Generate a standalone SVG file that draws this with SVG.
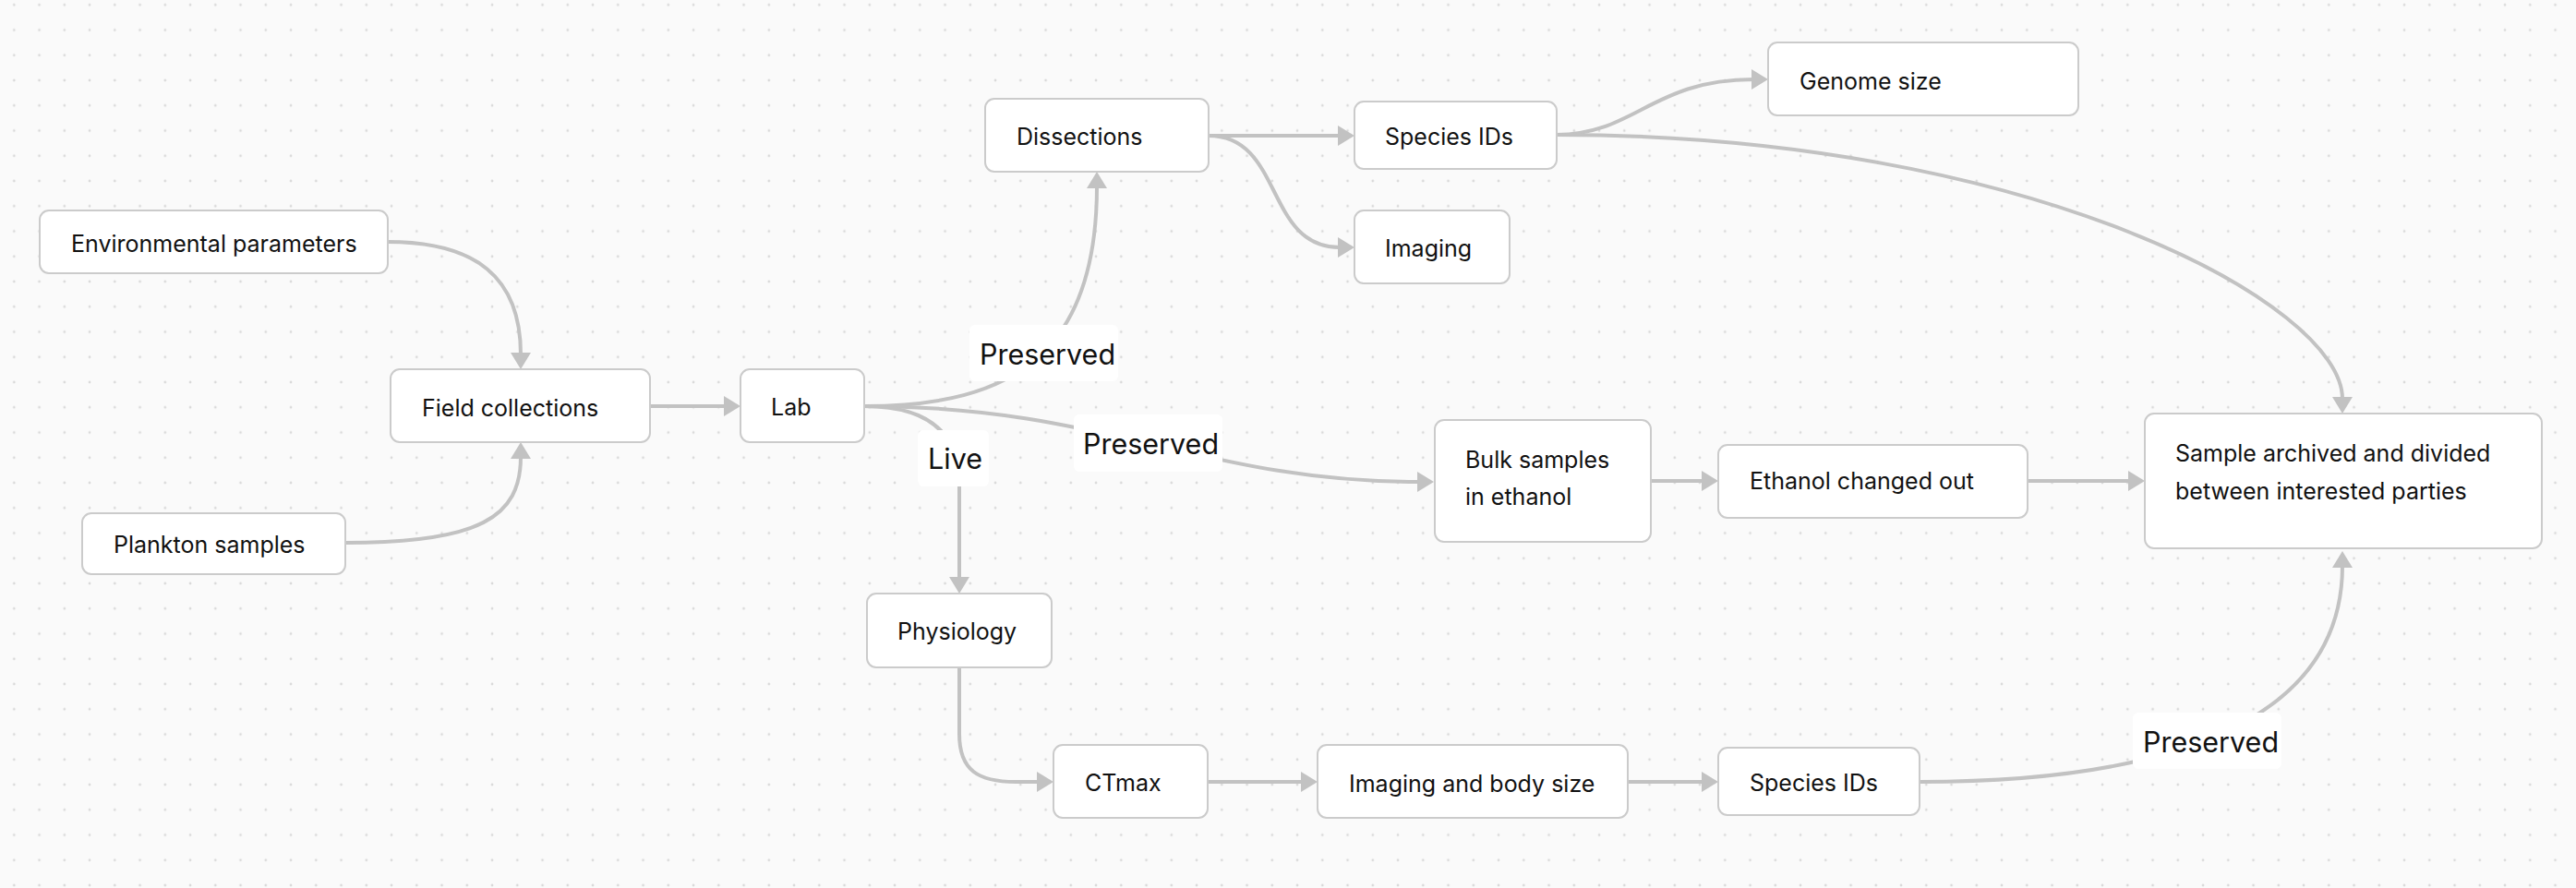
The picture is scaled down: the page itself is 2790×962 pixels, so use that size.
<svg xmlns="http://www.w3.org/2000/svg" width="2790" height="962" viewBox="0 0 2790 962">
<defs>
<pattern id="dots" patternUnits="userSpaceOnUse" x="1.675" y="-8.325" width="27.25" height="27.25">
<circle cx="13.625" cy="13.625" r="1.4" fill="#d9d9d9"/>
</pattern>
<marker id="arr" viewBox="0 0 18 22" markerWidth="18" markerHeight="22" refX="2" refY="11" orient="auto" markerUnits="userSpaceOnUse">
<path d="M0,0 L18,11 L0,22 z" fill="#c2c2c2"/>
</marker>
<style>
.node rect{fill:#ffffff;stroke:#cbcbcb;stroke-width:2}
.node text{font-family:Inter,"Noto Sans","Liberation Sans",sans-serif;font-size:25px;fill:#111111}
.edge{fill:none;stroke:#c2c2c2;stroke-width:4;marker-end:url(#arr)}
.lbl rect{fill:#ffffff;stroke:none}
.lbl text{font-family:Inter,"Noto Sans","Liberation Sans",sans-serif;font-size:30.5px;fill:#111111}
</style>
</defs>
<rect width="2790" height="962" fill="#fafafa"/>
<rect width="2790" height="962" fill="url(#dots)"/>

<g id="connectors">
<path class="edge" d="M420,262 C515,262 564,300 564,384"/>
<path class="edge" d="M374,588 C520,588 564,560 564,495"/>
<path class="edge" d="M704,440 L786,440"/>
<path class="edge" d="M936,440 C1100,440 1188,380 1188,202"/>
<path class="edge" d="M936,440 C1200,440 1300,522 1537,522"/>
<path class="edge" d="M936,440 C1000,440 1039,465 1039,525 L1039,627"/>
<path class="edge" d="M1309,147 L1451,147"/>
<path class="edge" d="M1309,147 C1390,147 1370,268 1451,268"/>
<path class="edge" d="M1686,146 C1770,146 1790,86 1899,86"/>
<path class="edge" d="M1686,146 C2200,146 2537,330 2537,432"/>
<path class="edge" d="M1788,521 L1845,521"/>
<path class="edge" d="M2196,521 L2307,521"/>
<path class="edge" d="M1039,723 L1039,795 C1039,835 1060,847 1100,847 L1125,847"/>
<path class="edge" d="M1308,847 L1411,847"/>
<path class="edge" d="M1763,847 L1845,847"/>
<path class="edge" d="M2079,847 C2330,847 2537,790 2537,613"/>
<g class="lbl">
<rect x="1050" y="352" width="161" height="61" rx="6"/>
<text x="1061" y="395">Preserved</text>
<rect x="1163" y="449" width="161" height="62" rx="6"/>
<text x="1173" y="492">Preserved</text>
<rect x="994" y="466" width="77" height="61" rx="6"/>
<text x="1005" y="508">Live</text>
<rect x="2310" y="772" width="161" height="61" rx="6"/>
<text x="2321" y="815">Preserved</text>
</g>
</g>

<g id="n-env" class="node"><rect x="43" y="228" width="377" height="68" rx="10"/><text x="77" y="273">Environmental parameters</text></g>
<g id="n-plankton" class="node"><rect x="89" y="556" width="285" height="66" rx="10"/><text x="123" y="599">Plankton samples</text></g>
<g id="n-field" class="node"><rect x="423" y="400" width="281" height="79" rx="10"/><text x="457" y="451">Field collections</text></g>
<g id="n-lab" class="node"><rect x="802" y="400" width="134" height="79" rx="10"/><text x="835" y="450">Lab</text></g>
<g id="n-dissections" class="node"><rect x="1067" y="107" width="242" height="79" rx="10"/><text x="1101" y="157">Dissections</text></g>
<g id="n-species1" class="node"><rect x="1467" y="110" width="219" height="73" rx="10"/><text x="1500" y="157">Species IDs</text></g>
<g id="n-imaging" class="node"><rect x="1467" y="228" width="168" height="79" rx="10"/><text x="1500" y="278">Imaging</text></g>
<g id="n-genome" class="node"><rect x="1915" y="46" width="336" height="79" rx="10"/><text x="1949" y="97">Genome size</text></g>
<g id="n-bulk" class="node"><rect x="1554" y="455" width="234" height="132" rx="10"/><text x="1587" y="507">Bulk samples</text><text x="1587" y="547">in ethanol</text></g>
<g id="n-ethanol" class="node"><rect x="1861" y="482" width="335" height="79" rx="10"/><text x="1895" y="530">Ethanol changed out</text></g>
<g id="n-archive" class="node"><rect x="2323" y="448" width="430" height="146" rx="10"/><text x="2356" y="500">Sample archived and divided</text><text x="2356" y="541">between interested parties</text></g>
<g id="n-physiology" class="node"><rect x="939" y="643" width="200" height="80" rx="10"/><text x="972" y="693">Physiology</text></g>
<g id="n-ctmax" class="node"><rect x="1141" y="807" width="167" height="79" rx="10"/><text x="1175" y="857">CTmax</text></g>
<g id="n-imgsize" class="node"><rect x="1427" y="807" width="336" height="79" rx="10"/><text x="1461" y="858">Imaging and body size</text></g>
<g id="n-species2" class="node"><rect x="1861" y="810" width="218" height="73" rx="10"/><text x="1895" y="857">Species IDs</text></g>
</svg>
